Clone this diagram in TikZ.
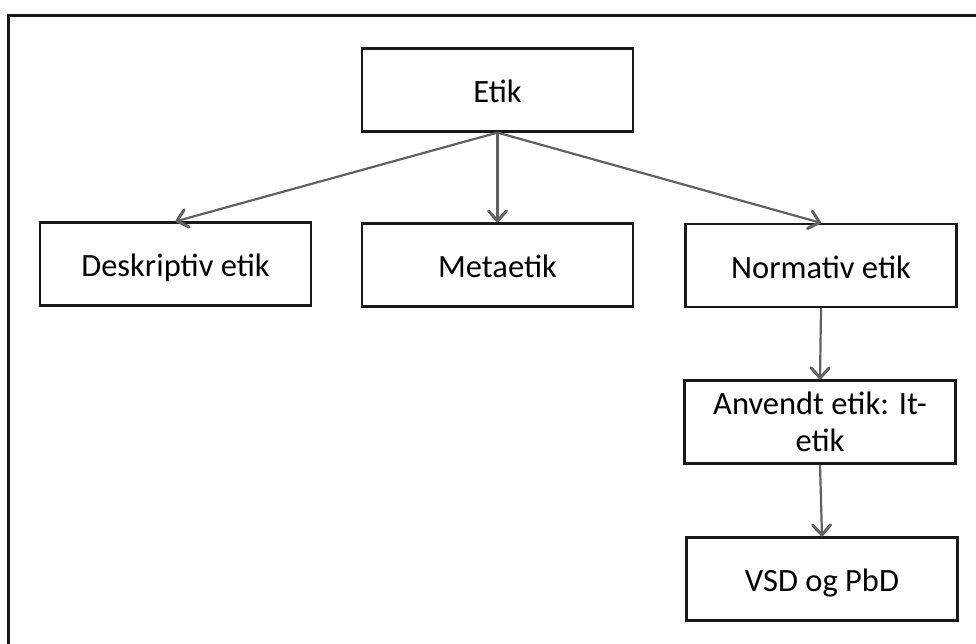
\documentclass[tikz,border=0pt]{standalone}
\usepackage{fontspec}
\setmainfont{Carlito}
\usetikzlibrary{arrows.meta}
\begin{document}
\begin{tikzpicture}[x=1pt,y=-1pt,
  plainbox/.style={draw=black!90,line width=2.2pt,minimum width=271pt,minimum height=83pt,
    inner sep=0pt,align=center,font=\fontsize{32.5}{37}\selectfont},
  box/.style={plainbox,text height=30pt,text depth=5pt},
  link/.style={draw=black!62,line width=2.2pt,
    -{Straight Barb[length=10pt,width=18pt,line width=3pt,round]}}]
\useasboundingbox (0,0) rectangle (976,644);
% frame around the chart
\draw[line width=2.8pt,black!90] (8.5,700) -- (8.5,15.5) -- (1000,15.5);
\node[box] (etik) at (497.5,90) {Etik};
\node[box] (desk) at (175.5,264) {Deskriptiv etik};
\node[box] (meta) at (497.5,265) {Metaetik};
\node[box] (norm) at (821,265.5) {Normativ etik};
\node[plainbox] (anv) at (820,422) {Anvendt etik: It-\\etik};
\node[box] (vsd) at (822,579) {VSD og PbD};
\draw[link] (etik.south) -- (desk.north);
\draw[link] (etik.south) -- (meta.north);
\draw[link] (etik.south) -- (norm.north);
\draw[link] (norm.south) -- (anv.north);
\draw[link] (anv.south) -- (vsd.north);
\end{tikzpicture}
\end{document}
